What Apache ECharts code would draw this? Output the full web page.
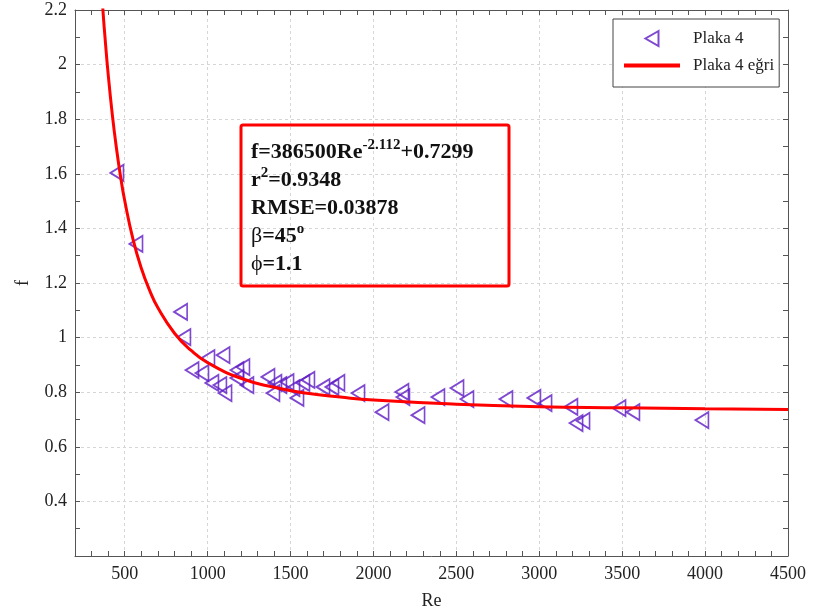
<!DOCTYPE html>
<html>
<head>
<meta charset="utf-8">
<script src="https://cdn.jsdelivr.net/npm/echarts@6/dist/echarts.min.js"></script>
<style>
  html, body { margin: 0; padding: 0; background: #fff; }
  #chart { width: 815px; height: 615px; }
</style>
</head>
<body>
<div id="chart"></div>
<script>
// measured points, plate 4
const re = [453, 568, 837, 857, 1002, 1093, 906, 966, 1026, 1074, 1105, 1177, 1213, 1237, 1177,
  1364, 1406, 1394, 1436, 1479, 1515, 1539, 1575, 1605, 1696, 1750, 1786, 1907, 2052, 2172,
  2178, 2269, 2389, 2504, 2564, 2799, 2968, 3035, 3191, 3222, 3264, 3481, 3565, 3981]
const f = [1.603, 1.343, 1.094, 1.002, 0.925, 0.936, 0.881, 0.870, 0.834, 0.826, 0.797, 0.881, 0.892, 0.826, 0.852,
  0.856, 0.834, 0.797, 0.826, 0.837, 0.815, 0.779, 0.834, 0.845, 0.819, 0.819, 0.834, 0.797, 0.727, 0.801,
  0.782, 0.716, 0.782, 0.815, 0.775, 0.775, 0.779, 0.760, 0.746, 0.687, 0.695, 0.742, 0.727, 0.698]

// fitted curve
const fitRe = [355, 370, 380, 400, 425, 450, 475, 500, 550, 600, 650, 700, 800, 900, 1000,
  1200, 1400, 1600, 1800, 2000, 2500, 3000, 3500, 4000, 4500]
const fitF = [2.320, 2.186, 2.107, 1.965, 1.817, 1.694, 1.589, 1.501, 1.360, 1.254, 1.173, 1.109, 1.016, 0.953, 0.908,
  0.851, 0.818, 0.796, 0.782, 0.771, 0.756, 0.747, 0.743, 0.739, 0.737]

const xTickLabels = [500, 1000, 1500, 2000, 2500, 3000, 3500, 4000, 4500]
const seriesNames = ['Plaka 4', 'Plaka 4 eğri']
const infoLines = ['f=386500Re', '-2.112', '+0.7299', 'r', '2', '=0.9348', 'RMSE=0.03878', 'β', '=45', 'o', 'ϕ', '=1.1']

const serif = 'Liberation Serif'
const purple = '#5e1cc4'
const axisColor = '#555'
const gridColor = '#d6d6d6'

const chart = echarts.init(document.getElementById('chart'))

// x ticks every 100 (min 200 is not a multiple of 500), grid lines at the labelled values via markLine
const baseX = {
  type: 'value', min: 200, max: 4500, interval: 100,
  axisLine: { show: true, onZero: false, lineStyle: { color: axisColor, width: 1 } },
  axisTick: { show: true, inside: true, length: 5, lineStyle: { color: axisColor } },
  splitLine: { show: false },
}
const baseY = {
  type: 'value', min: 0.2, max: 2.2, interval: 0.2,
  axisLine: { show: true, onZero: false, lineStyle: { color: axisColor, width: 1 } },
  axisTick: { show: true, inside: true, length: 5, lineStyle: { color: axisColor } },
  minorTick: { show: true, splitNumber: 2, length: 5, lineStyle: { color: axisColor } },
}

const option = {
  animation: false,
  backgroundColor: '#fff',
  grid: { left: 75, right: 27, top: 10, bottom: 59 },
  xAxis: [
    {
      ...baseX,
      position: 'bottom',
      name: 'Re', nameLocation: 'middle', nameGap: 36,
      nameTextStyle: { fontFamily: serif, fontSize: 18, color: '#222' },
      axisLabel: {
        margin: 9, fontFamily: serif, fontSize: 18, color: '#222',
        formatter: (v) => (xTickLabels.includes(v) ? String(v) : ''),
      },
    },
    {
      ...baseX,
      position: 'top',
      axisLabel: { show: false },
    },
  ],
  yAxis: [
    {
      ...baseY,
      position: 'left',
      name: 'f', nameLocation: 'middle', nameGap: 43,
      nameTextStyle: { fontFamily: serif, fontSize: 18, color: '#222' },
      axisLabel: { showMinLabel: false, margin: 8, fontFamily: serif, fontSize: 18, color: '#222' },
      splitLine: { show: true, lineStyle: { color: gridColor, type: [3, 3], width: 1 } },
    },
    {
      ...baseY,
      position: 'right',
      axisLabel: { show: false },
      splitLine: { show: false },
    },
  ],
  legend: {
    orient: 'vertical',
    left: 613, top: 19,
    padding: [11, 5, 13, 11],
    itemWidth: 56, itemHeight: 15, itemGap: 10,
    backgroundColor: '#fff',
    borderColor: '#444', borderWidth: 1,
    symbolKeepAspect: true,
    textStyle: { fontFamily: serif, fontSize: 17, color: '#222', padding: [0, 0, 0, 8] },
    data: [
      { name: seriesNames[0], icon: 'path://M13,0 L0,7.5 L13,15 Z' },
      { name: seriesNames[1], icon: 'path://M0,0 H56 V4 H0 Z' },
    ],
  },
  series: [
    {
      name: seriesNames[0],
      type: 'scatter',
      data: re.map((r, i) => [r, f[i]]),
      symbol: 'triangle',
      symbolRotate: 90,
      symbolSize: [16, 13],
      itemStyle: { color: 'transparent', borderColor: purple, borderWidth: 1.8 },
      markLine: {
        silent: true,
        symbol: 'none',
        label: { show: false },
        lineStyle: { color: gridColor, type: [3, 3], width: 1 },
        data: xTickLabels.map((v) => ({ xAxis: v })),
        z: 0,
      },
    },
    {
      name: seriesNames[1],
      type: 'line',
      data: fitRe.map((r, i) => [r, fitF[i]]),
      smooth: true,
      symbol: 'none',
      clip: true,
      itemStyle: { color: '#ff0000' },
      lineStyle: { color: '#ff0000', width: 3 },
    },
  ],
  graphic: [
    {
      type: 'rect',
      shape: { x: 241, y: 125, width: 268, height: 161, r: 2 },
      style: { fill: 'transparent', stroke: '#ff0000', lineWidth: 3 },
      z: 100,
    },
    {
      type: 'text',
      left: 251, top: 138,
      z: 101,
      style: {
        text: '{b|' + infoLines[0] + '}{s|' + infoLines[1] + '}{b|' + infoLines[2] + '}\n' +
          '{b|' + infoLines[3] + '}{s|' + infoLines[4] + '}{b|' + infoLines[5] + '}\n' +
          '{b|' + infoLines[6] + '}\n' +
          '{g|' + infoLines[7] + '}{b|' + infoLines[8] + '}{s|' + infoLines[9] + '}\n' +
          '{g|' + infoLines[10] + '}{b|' + infoLines[11] + '}',
        rich: {
          b: { fontFamily: serif, fontWeight: 'bold', fontSize: 22, lineHeight: 28, fill: '#111' },
          g: { fontFamily: serif, fontSize: 22, lineHeight: 28, fill: '#111' },
          s: { fontFamily: serif, fontWeight: 'bold', fontSize: 15, lineHeight: 28, verticalAlign: 'top', fill: '#111' },
        },
      },
    },
  ],
}

chart.setOption(option)
</script>
</body>
</html>
